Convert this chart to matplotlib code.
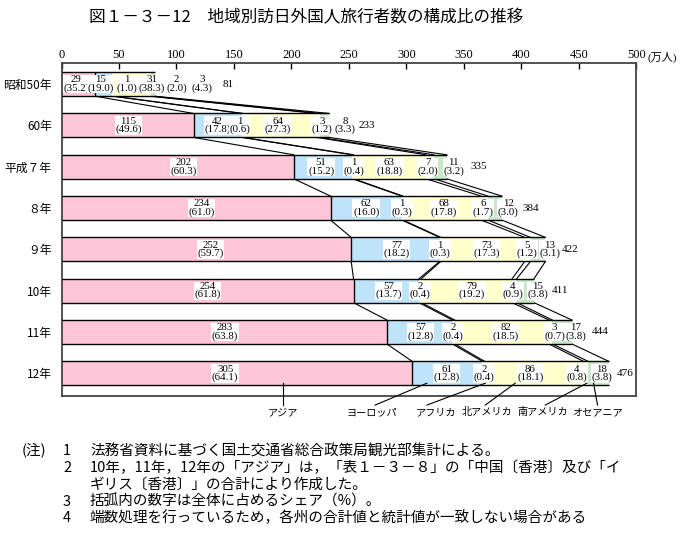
import matplotlib
matplotlib.use("Agg")
import numpy as np
import matplotlib.pyplot as plt

plt.rcParams['font.family'] = ['Noto Sans CJK JP', 'DejaVu Sans']

# --- data ---
years = ["昭和50年", "60年", "平成７年", "８年", "９年", "10年", "11年", "12年"]
regions = ["アジア", "ヨーロッパ", "アフリカ", "北アメリカ", "南アメリカ", "オセアニア"]

asia = [29, 115, 202, 234, 252, 254, 283, 305]
europe = [15, 42, 51, 62, 77, 57, 57, 61]
africa = [1, 1, 1, 1, 1, 2, 2, 2]
n_america = [31, 64, 63, 68, 73, 79, 82, 86]
s_america = [2, 3, 7, 6, 5, 4, 3, 4]
oceania = [3, 8, 11, 12, 13, 15, 17, 18]
totals = [81, 233, 335, 384, 422, 411, 444, 476]

asia_pct = [35.2, 49.6, 60.3, 61.0, 59.7, 61.8, 63.8, 64.1]
europe_pct = [19.0, 17.8, 15.2, 16.0, 18.2, 13.7, 12.8, 12.8]
africa_pct = [1.0, 0.6, 0.4, 0.3, 0.3, 0.4, 0.4, 0.4]
n_america_pct = [38.3, 27.3, 18.8, 17.8, 17.3, 19.2, 18.5, 18.1]
s_america_pct = [2.0, 1.2, 2.0, 1.7, 1.2, 0.9, 0.7, 0.8]
oceania_pct = [4.3, 3.3, 3.2, 3.0, 3.1, 3.8, 3.8, 3.8]

colors = ["#ffc6da", "#bfe4fa", "#ffffff", "#ffffcc", "#ffffff", "#c8e8c8"]

# label x positions (data units) for each row: 6 segments + total
label_x = [
    [13, 34, 57, 78.5, 100, 122, 144.6],
    [58.2, 135.6, 154.8, 188, 226.5, 246.7, 265.6],
    [106, 225.8, 254, 285.3, 318.4, 341, 362.8],
    [122, 265, 296, 332.3, 366.5, 388.5, 408.5],
    [129.8, 291.7, 329.4, 369.5, 405.0, 425.0, 442],
    [127, 284.4, 312, 357, 392.7, 414, 433.9],
    [142.3, 312.6, 340.5, 386.6, 429.0, 447.5, 468.5],
    [142.3, 335.2, 367.7, 407.7, 448.4, 470, 490],
]

vals = np.array([asia, europe, africa, n_america, s_america, oceania]).T
pcts = np.array([asia_pct, europe_pct, africa_pct, n_america_pct, s_america_pct, oceania_pct]).T
cum = np.cumsum(vals, axis=1)
starts = cum - vals

fig = plt.figure(figsize=(6.92, 5.46), dpi=100)
ax = fig.add_axes([0.0889, 0.2747, 0.8306, 0.609])

h = 0.58
ypos = np.arange(len(years))

for j in range(len(regions)):
    ax.barh(ypos, vals[:, j], left=starts[:, j], height=h, color=colors[j],
            edgecolor="none", zorder=2)

# outlines of bars
for i in ypos:
    ax.hlines([i - h / 2, i + h / 2], 0, cum[i, -1], colors="black", lw=1, zorder=3)
    ax.vlines(cum[i, 0], i - h / 2, i + h / 2, colors="black", lw=1, zorder=3)

# connector lines between years
for i in range(len(years) - 1):
    for j in range(len(regions)):
        ax.plot([cum[i, j], cum[i + 1, j]], [i + h / 2, i + 1 - h / 2],
                color="black", lw=0.8, zorder=1)

# value labels
for i in ypos:
    for j in range(len(regions)):
        ax.text(label_x[i][j], i, f"{vals[i, j]}\n({pcts[i, j]:.1f})",
                ha="center", va="center", fontsize=7.8, family="Liberation Serif",
                linespacing=0.85, zorder=4,
                bbox=dict(facecolor="white", edgecolor="none", pad=0.4))
    ax.text(label_x[i][6], i, str(totals[i]), ha="center", va="center",
            fontsize=8, family="Liberation Serif", zorder=4)

ax.set_xlim(0, 500)
ax.set_ylim(len(years) - 1 + 0.55, -0.5)

ax.xaxis.tick_top()
ax.set_xticks(np.arange(0, 501, 50))
ax.set_xticklabels([str(v) for v in range(0, 501, 50)], family="Liberation Serif", fontsize=9)
ax.tick_params(axis="x", direction="in", length=4, width=1, pad=2)
ax.text(1.02, 1.0, "(万人)", transform=ax.transAxes, ha="left", va="bottom",
        fontsize=8, family=["Liberation Serif", "Noto Sans CJK JP"])

ax.set_yticks(ypos)
ax.set_yticklabels(years, fontsize=8.5)
ax.tick_params(axis="y", length=0, pad=7)

for s in ax.spines.values():
    s.set_color("#444444")
    s.set_linewidth(1.3)

# region leader labels under the last bar
text_x = [192.8, 270.2, 326.0, 370.0, 418.2, 466.0]
line_bar_x = [192.8, 317.8, 368.6, 394.7, 457.0, 462.8]
line_txt_x = [192.8, 272.8, 317.8, 368.6, 420.8, 466.3]
last = len(years) - 1
for k, name in enumerate(regions):
    ax.plot([line_bar_x[k], line_txt_x[k]], [last + 0.24, last + 0.77],
            color="black", lw=0.8, clip_on=False, zorder=5)
    ax.text(text_x[k], last + 0.94, name, ha="center", va="center",
            fontsize=7.3, clip_on=False)

fig.text(0.443, 0.967, "図１－３－12　地域別訪日外国人旅行者数の構成比の推移",
         ha="center", va="center", fontsize=12)

notes_y = [451, 468, 485, 502, 518]
note_nums = ["1", "2", "", "3", "4"]
notes = [
    "法務省資料に基づく国土交通省総合政策局観光部集計による。",
    "10年，11年，12年の「アジア」は，「表１－３－８」の「中国〔香港〕及び「イ",
    "ギリス〔香港〕」の合計により作成した。",
    "括弧内の数字は全体に占めるシェア（%）。",
    "端数処理を行っているため，各州の合計値と統計値が一致しない場合がある",
]
fig.text(22 / 692, 1 - notes_y[0] / 546, "(注)", ha="left", va="center", fontsize=10.5)
for yy, num, line in zip(notes_y, note_nums, notes):
    fig.text(63 / 692, 1 - yy / 546, num, ha="left", va="center", fontsize=10.5)
    fig.text(90 / 692, 1 - yy / 546, line, ha="left", va="center", fontsize=10.5)

fig.savefig("out.png", dpi=100)
